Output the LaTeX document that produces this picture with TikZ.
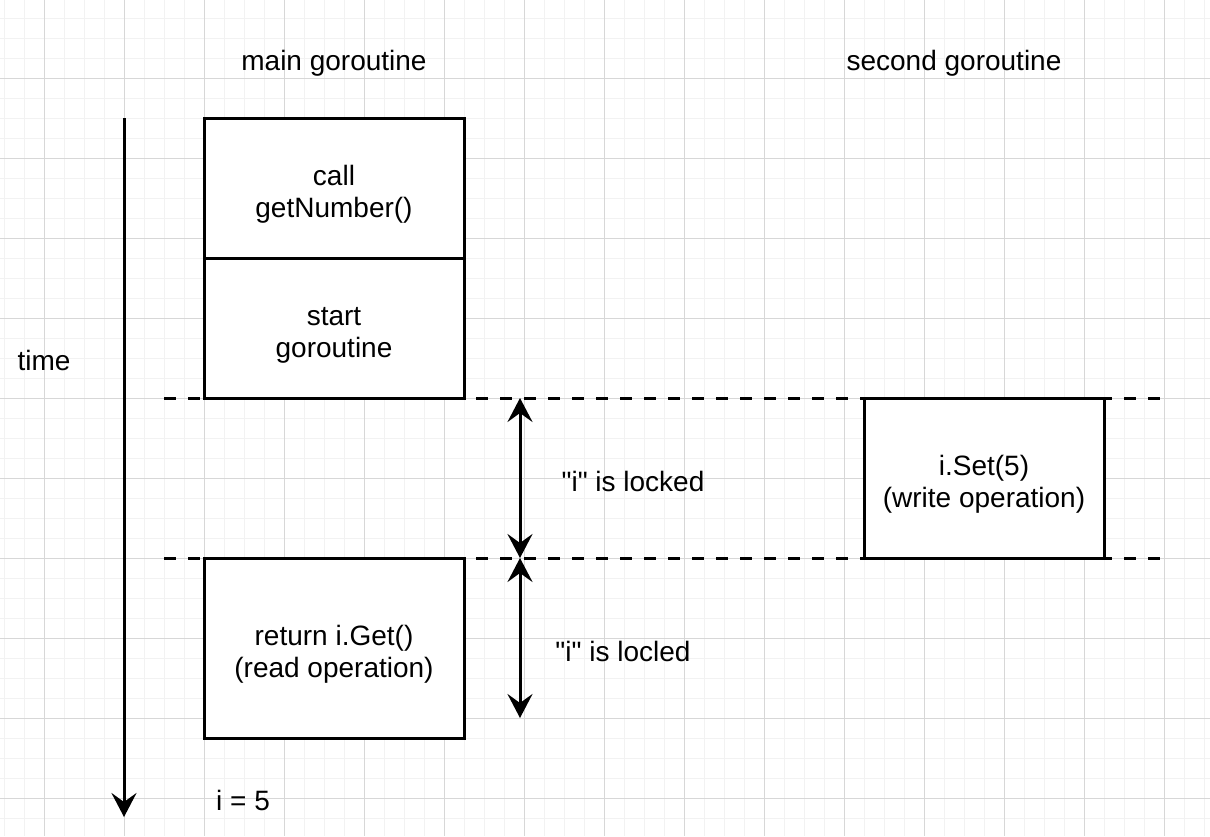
\documentclass[tikz,border=0pt]{standalone}
\usepackage{fontspec}
\setmainfont[Ligatures=TeXOff]{Liberation Sans}
\usetikzlibrary{arrows.meta,positioning}
\definecolor{gridminor}{RGB}{242,242,242}
\definecolor{gridmajor}{RGB}{215,215,215}
\newcommand{\topstrut}{\rule{0pt}{16pt}}

\tikzset{
  opbox/.style={draw, fill=white, line width=1.5pt, minimum width=130pt, minimum height=70pt,
    inner sep=0pt, outer sep=0pt, align=center, font=\fontsize{14}{16}\selectfont},
  lbl/.style={inner sep=0pt, font=\fontsize{14}{16}\selectfont},
  timeline/.style={line width=1.5pt, -{Stealth[length=12pt,width=12.5pt,inset=4.5pt]}},
  lockarrow/.style={line width=1.5pt, {Stealth[length=12pt,width=12.5pt,inset=4.5pt]}-{Stealth[length=12pt,width=12.5pt,inset=4.5pt]}},
  phase/.style={line width=1.5pt, dash pattern=on 6pt off 6pt}
}

\begin{document}
\begin{tikzpicture}[x=0.5pt,y=-0.5pt]
		\useasboundingbox (0,0) rectangle (1210,836);

		% background grid
		\foreach \gx in {4,24,...,1204} \draw[gridminor, line width=0.5pt] (\gx,0) -- (\gx,836);
		\foreach \gy in {18,38,...,830} \draw[gridminor, line width=0.5pt] (0,\gy) -- (1210,\gy);
		\foreach \gx in {44,124,...,1204} \draw[gridmajor, line width=0.5pt] (\gx,0) -- (\gx,836);
		\foreach \gy in {78,158,...,830} \draw[gridmajor, line width=0.5pt] (0,\gy) -- (1210,\gy);

		\coordinate (lockA) at (164,398);
		\coordinate (lockB) at (1160,398);
		\coordinate (freeA) at (164,558);
		\coordinate (freeB) at (1160,558);
		\draw[phase] (lockA) -- (lockB);
		\draw[phase] (freeA) -- (freeB);

		\node[opbox] (call) at (334,188) {\topstrut call\\getNumber()};
		\node[opbox, below=0pt of call] (start) {\topstrut start\\goroutine};
		\node[opbox, minimum height=90pt] (get) at (334,648) {\topstrut return i.Get()\\(read operation)};
		\node[opbox, minimum width=120pt, minimum height=80pt] (set) at (984,478) {\topstrut i.Set(5)\\(write operation)};

		\node[lbl] (main) at (334,63) {main goroutine};
		\node[lbl] (second) at (954,63) {second goroutine};
		\node[lbl] (time) at (44,360) {time};
		\node[lbl] (value) at (243,800) {i = 5};

		\coordinate (tstart) at (124,118);
		\coordinate (tend) at (124,817);
		\draw[timeline] (tstart) -- (tend);

		\coordinate (setTop) at (520,398);
		\coordinate (setBot) at (520,558);
		\coordinate (getBot) at (520,718);
		\draw[lockarrow] (setTop) -- (setBot);
		\draw[lockarrow] (setBot) -- (getBot);
		\node[lbl] (locked) at (633,481) {"i" is locked};
		\node[lbl] (locled) at (623,651) {"i" is locled};
	\end{tikzpicture}
\end{document}
